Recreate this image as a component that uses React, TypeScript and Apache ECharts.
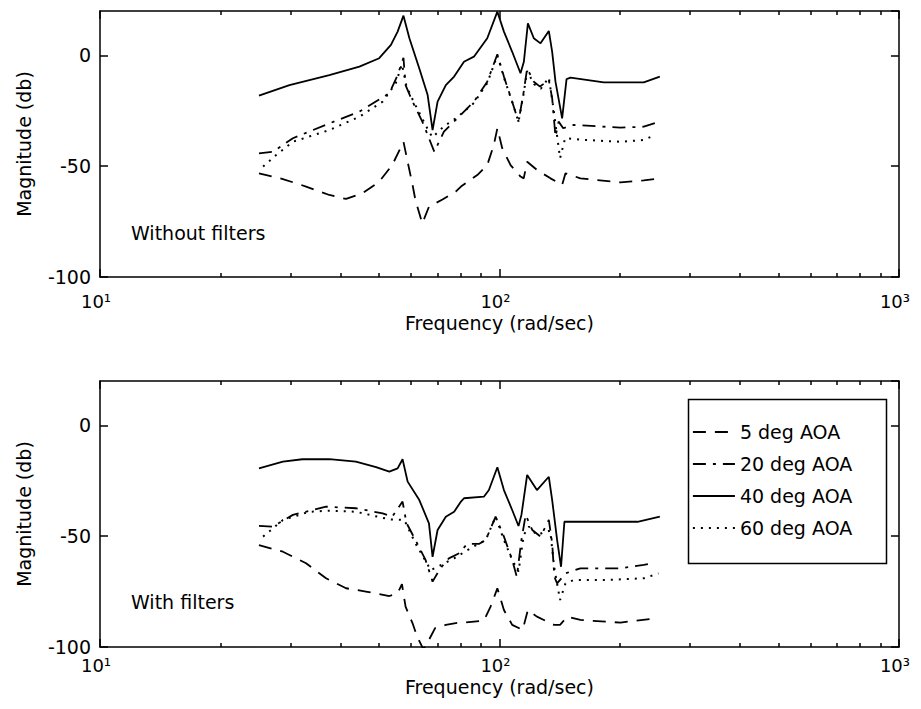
import React, { useEffect, useRef } from 'react';
import * as echarts from 'echarts';

const FONT = 'DejaVu Sans';

// Tick values
const X_MAJOR_MIN = 10;
const X_MAJOR_MAX = 1000;
const X_MINOR_TICKS = [20, 30, 40, 50, 60, 70, 80, 90, 200, 300, 400, 500, 600, 700, 800, 900];
const SUPERSCRIPTS: Record<number, string> = { 1: '¹', 2: '²', 3: '³' };
const Y_MIN = -100;
const Y_MAX = 20;
const Y_INTERVAL = 50;

const LEGEND_NAMES = ['5 deg AOA', '20 deg AOA', '40 deg AOA', '60 deg AOA'];

// ---- Top panel: without filters ----
const TOP5_FREQ = [25, 28.7, 32.8, 37.5, 41.3, 45.4, 50, 53.9, 57.5, 58.9, 60.6, 61.6, 64.1, 66.6, 72, 77.7, 80.1, 88, 93.2, 96.8, 98.8, 101.6, 106.6, 112.9, 115, 117.3, 124.1, 134.2, 143.5, 146.3, 159.4, 200.8, 229.7, 252];
const TOP5_MAG = [-53.2, -55.8, -59.2, -63, -64.8, -62.2, -57, -49.5, -39, -48, -58.5, -65.3, -75.8, -68.3, -65, -61.5, -59.2, -54, -49.5, -40.4, -32.9, -41.9, -49.5, -54.7, -55.5, -48, -51.7, -55.5, -58.5, -53.2, -55.5, -57.3, -56.4, -55.5];

const TOP20_FREQ = [25, 27.1, 30.4, 37.5, 44.6, 53, 55.6, 57.5, 58.2, 60.6, 64.1, 68.7, 72.6, 78.4, 86.3, 93.2, 98.8, 102.6, 107.6, 111.6, 115, 117.3, 121.9, 126.3, 132.9, 135.5, 138.1, 140.6, 144.4, 153.3, 200.8, 229.7, 252];
const TOP20_MAG = [-44.2, -43.5, -37.4, -30.7, -25.4, -17.1, -8.9, -1.1, -13.4, -20.9, -29.9, -43.5, -34.4, -28.4, -20.9, -11.9, 0.5, -9.6, -20.9, -29.9, -16.4, -5.9, -11.9, -14.1, -11.1, -19.4, -36.7, -29.9, -32.9, -31.4, -32.6, -32.2, -29.9];

const TOP40_FREQ = [25, 29.8, 37.5, 44.6, 50, 53.5, 55.6, 57.5, 59.5, 63, 66.1, 68, 70, 73.4, 77, 81.5, 86.3, 93.2, 98.8, 102.6, 107.6, 112.9, 115.1, 117.8, 121.9, 126.7, 132.9, 135.5, 138.1, 143.5, 147.2, 150.6, 182.5, 229.7, 252];
const TOP40_MAG = [-18.2, -13.4, -8.9, -5.1, -1.3, 4.7, 10.7, 17.9, 7.7, -5.9, -17.9, -33.7, -20.9, -13.4, -9.6, -2.9, -0.6, 7.7, 19.7, 10.7, 1.6, -8.1, -2.9, 14.4, 7.7, 5.4, 11.0, 1.6, -11.9, -28.4, -10.7, -10.1, -12.2, -12.2, -9.6];

const TOP60_FREQ = [25.6, 27.6, 30.4, 37.5, 44.6, 51, 55, 57, 58.5, 61, 66.6, 68, 72.6, 78.4, 86.3, 93.2, 98.8, 102.6, 107.6, 111.6, 115, 117.3, 122, 127, 132.9, 136, 141.8, 146, 165, 200.8, 230, 243];
const TOP60_MAG = [-50.2, -45, -39, -33.7, -27.7, -20.9, -12.6, -4, -14, -21, -34.4, -37, -32, -28, -21.5, -12.5, 0, -10, -21, -30, -17, -7, -13, -15, -10, -22, -46.4, -37.4, -38.2, -39, -38.2, -36.2];

// ---- Bottom panel: with filters ----
const BOT5_FREQ = [25, 28.7, 32.8, 36.8, 41.3, 46.3, 53, 55.6, 57, 58.2, 60.6, 62.2, 64.5, 66.6, 69, 73.4, 79.3, 81.5, 91.4, 95, 98.8, 102.6, 107.6, 114.3, 117.8, 124.1, 137, 141.8, 147.8, 159.4, 200.8, 247];
const BOT5_MAG = [-54, -57, -62.2, -69, -73.5, -75, -77, -75.8, -71.6, -81.8, -89.3, -95.3, -101, -96.8, -91.5, -90, -89, -89, -88.1, -81.8, -73.5, -83.3, -90, -92.3, -83.3, -86.3, -90, -90, -86.3, -87.8, -89, -87];

const BOT20_FREQ = [25, 27.1, 30.4, 36.8, 43.7, 51, 53.9, 57.2, 58.5, 61.6, 65.3, 68, 71.1, 74.7, 79.3, 83, 88.8, 92.4, 97.8, 102.6, 107.6, 110.5, 113.5, 116.3, 120.8, 126.7, 132.9, 135.5, 137.2, 139.4, 146.3, 159.4, 200.8, 229.7, 243];
const BOT20_MAG = [-45.4, -45.7, -40.4, -36.7, -37.4, -39.7, -41.2, -34.4, -44, -51.7, -60.7, -70.5, -64.5, -60, -57.7, -53.5, -53.5, -51.7, -41.2, -50.2, -60.7, -68.3, -51.7, -40.4, -47.2, -50.2, -42.7, -53.2, -68.3, -71.3, -66.8, -64.5, -64.5, -63, -62.2];

const BOT40_FREQ = [25, 28.7, 32.1, 37.5, 43.7, 49.1, 53, 55.6, 57.2, 58.9, 63, 66.6, 68, 70, 73.4, 77, 80.1, 81.5, 91.4, 94.1, 98.8, 102.6, 107.6, 111.6, 113.5, 117.3, 124.1, 132.9, 135.5, 139.4, 142.6, 145.4, 162.4, 221.6, 252];
const BOT40_MAG = [-19.4, -16.4, -15.3, -15.2, -16.4, -18.9, -20.9, -19.4, -15.3, -25.4, -33.7, -44.2, -59.3, -47.2, -41.2, -39, -34.4, -32.9, -32.2, -29.2, -18.9, -29.2, -38.2, -45.4, -40.4, -22.4, -29.2, -23.2, -33.7, -51.7, -63.8, -43.5, -43.5, -43.5, -41.2];

const BOT60_FREQ = [25.6, 28.7, 33.4, 37.5, 43.7, 53, 57.8, 61.6, 67.3, 70, 77, 84.5, 92.4, 97.8, 102.6, 107.6, 111.6, 115, 118.5, 124.1, 130.3, 134, 137, 141.8, 146.3, 153.3, 182.5, 230, 250];
const BOT60_MAG = [-50.2, -42.7, -39, -38.5, -39, -42.4, -42.7, -53.2, -65.3, -63.8, -60, -55.5, -51.7, -41.2, -51.7, -60.7, -66, -49.5, -45.7, -49.5, -48, -47.5, -63.8, -78.8, -71.3, -69.8, -69.8, -69, -66.8];

const pair = (f: number[], m: number[]) => f.map((v, i) => [v, m[i]]);

const LINE_TYPES: any[] = [[13, 9], [13, 7, 3, 7], 'solid', [2, 6]];

export default function App() {
  const ref = useRef<HTMLDivElement>(null);

  useEffect(() => {
    if (!ref.current) return;
    const chart = echarts.init(ref.current, undefined, { renderer: 'svg' });

    const grids = [
      { left: 100, top: 11, width: 802, height: 266 },
      { left: 100, top: 381, width: 802, height: 266 },
    ];
    const labelMargins = [17, 11];
    const nameGaps = [39, 33];

    const xAxes: any[] = [];
    const yAxes: any[] = [];
    const axisLine = { show: true, onZero: false, lineStyle: { color: '#000', width: 1.5 } };
    const tickStyle = { color: '#000', width: 1.5 };

    grids.forEach((_, g) => {
      // bottom major (with labels)
      xAxes.push({
        type: 'log', logBase: 10, gridIndex: g, position: 'bottom',
        min: X_MAJOR_MIN, max: X_MAJOR_MAX,
        axisLine, splitLine: { show: false },
        axisTick: { show: true, inside: true, length: 8, lineStyle: tickStyle },
        axisLabel: {
          show: true, margin: labelMargins[g], padding: [0, 8, 0, 0],
          fontSize: 18, fontFamily: FONT, color: '#000', lineHeight: 14,
          formatter: (v: number) => '10' + SUPERSCRIPTS[Math.round(Math.log10(v))],
        },
        name: 'Frequency (rad/sec)', nameLocation: 'middle', nameGap: nameGaps[g],
        nameTextStyle: { fontSize: 19, fontFamily: FONT, color: '#000', lineHeight: 14 },
      });
      // bottom minor ticks
      xAxes.push({
        type: 'log', logBase: 10, gridIndex: g, position: 'bottom',
        min: X_MAJOR_MIN, max: X_MAJOR_MAX,
        axisLine: { show: false, onZero: false }, splitLine: { show: false }, axisLabel: { show: false },
        axisTick: { show: true, inside: true, length: 4, customValues: X_MINOR_TICKS, lineStyle: tickStyle },
      });
      // top major
      xAxes.push({
        type: 'log', logBase: 10, gridIndex: g, position: 'top',
        min: X_MAJOR_MIN, max: X_MAJOR_MAX,
        axisLine, splitLine: { show: false }, axisLabel: { show: false },
        axisTick: { show: true, inside: true, length: 8, lineStyle: tickStyle },
      });
      // top minor
      xAxes.push({
        type: 'log', logBase: 10, gridIndex: g, position: 'top',
        min: X_MAJOR_MIN, max: X_MAJOR_MAX,
        axisLine: { show: false, onZero: false }, splitLine: { show: false }, axisLabel: { show: false },
        axisTick: { show: true, inside: true, length: 4, customValues: X_MINOR_TICKS, lineStyle: tickStyle },
      });
      yAxes.push({
        type: 'value', gridIndex: g, position: 'left',
        min: Y_MIN, max: Y_MAX, interval: Y_INTERVAL,
        axisLine, splitLine: { show: false },
        axisTick: { show: true, inside: true, length: 8, lineStyle: tickStyle },
        axisLabel: { show: true, showMaxLabel: false, margin: 9, fontSize: 19, fontFamily: FONT, color: '#000' },
        name: 'Magnitude (db)', nameLocation: 'middle', nameGap: 67,
        nameTextStyle: { fontSize: 19, fontFamily: FONT, color: '#000' },
      });
      yAxes.push({
        type: 'value', gridIndex: g, position: 'right',
        min: Y_MIN, max: Y_MAX, interval: Y_INTERVAL,
        axisLine, splitLine: { show: false },
        axisTick: { show: true, inside: true, length: 8, lineStyle: tickStyle },
        axisLabel: { show: false },
      });
    });

    const panelData = [
      [pair(TOP5_FREQ, TOP5_MAG), pair(TOP20_FREQ, TOP20_MAG), pair(TOP40_FREQ, TOP40_MAG), pair(TOP60_FREQ, TOP60_MAG)],
      [pair(BOT5_FREQ, BOT5_MAG), pair(BOT20_FREQ, BOT20_MAG), pair(BOT40_FREQ, BOT40_MAG), pair(BOT60_FREQ, BOT60_MAG)],
    ];

    const series: any[] = [];
    panelData.forEach((sets, g) => {
      sets.forEach((data, k) => {
        series.push({
          type: 'line', name: LEGEND_NAMES[k], data,
          xAxisIndex: g * 4, yAxisIndex: g * 2,
          symbol: 'none', smooth: false, clip: true,
          lineStyle: { color: '#000', width: k === 3 ? 2 : 1.8, type: LINE_TYPES[k] },
          itemStyle: { color: '#000' },
        });
      });
    });

    chart.setOption({
      animation: false,
      backgroundColor: '#fff',
      grid: grids,
      xAxis: xAxes,
      yAxis: yAxes,
      series,
      legend: {
        data: LEGEND_NAMES.map((name, k) => ({
          name,
          lineStyle: { color: '#000', width: 1.8, type: LINE_TYPES[k] },
          itemStyle: { color: 'rgba(0,0,0,0)', borderWidth: 0, opacity: 0 },
        })),
        orient: 'vertical', left: 692, top: 422,
        itemWidth: 42, itemHeight: 20, itemGap: 12, padding: 0,
        selectedMode: false,
        textStyle: { fontSize: 19, fontFamily: FONT, color: '#000', lineHeight: 20 },
      },
      graphic: [
        { type: 'rect', left: 686, top: 397, z: 0, shape: { x: 0, y: 0, width: 198, height: 164 }, style: { fill: 'none', stroke: '#000', lineWidth: 1.5 } },
        { type: 'text', x: 131, y: 233, style: { text: 'Without filters', fontSize: 19, fontFamily: FONT, fill: '#000', verticalAlign: 'middle' } },
        { type: 'text', x: 131, y: 602, style: { text: 'With filters', fontSize: 19, fontFamily: FONT, fill: '#000', verticalAlign: 'middle' } },
      ],
    });

    return () => chart.dispose();
  }, []);

  return (
    <div style={{ position: 'absolute', left: 0, top: 0, width: 921, height: 709, background: '#fff' }}>
      <div ref={ref} style={{ width: 921, height: 709 }} />
    </div>
  );
}
